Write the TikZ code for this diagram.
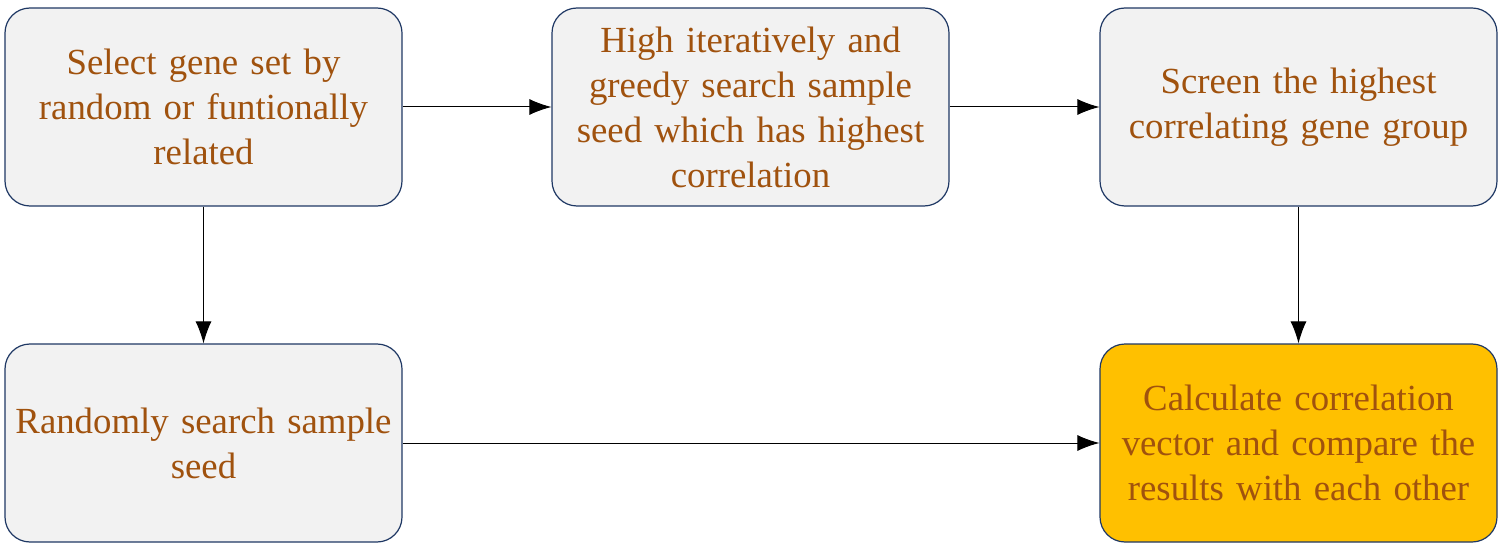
\documentclass[tikz,border=0pt]{standalone}
\usepackage{fontspec}
\setmainfont{Liberation Serif}
\usepackage{tikz}
\usetikzlibrary{arrows.meta,positioning}

\definecolor{boxfill}{HTML}{F2F2F2}
\definecolor{boxline}{HTML}{1F3864}
\definecolor{boxtext}{HTML}{A0520E}
\definecolor{goldfill}{HTML}{FFC000}

\tikzset{
	stepbox/.style={draw=boxline, line width=1.2pt, fill=boxfill, rounded corners=25pt,
		minimum width=397pt, minimum height=198pt, text width=390pt, align=center,
		text=boxtext, font=\fontsize{36.8}{45}\selectfont, inner sep=0pt},
	flow/.style={-{Latex[length=22pt,width=16pt]}, line width=1pt}
}

\begin{document}
\begin{tikzpicture}[x=1pt,y=1pt]

	\useasboundingbox (0,0) rectangle (1510,-548);

	\node[stepbox] (select) at (203.5,-107) {Select gene set by\\random or funtionally\\related};
	\node[stepbox] (greedy) at (750.5,-107) {High iteratively and\\greedy search sample\\seed which has highest\\correlation};
	\node[stepbox] (screen) at (1298.5,-107) {Screen the highest\\correlating gene group};
	\node[stepbox] (random) at (203.5,-443) {Randomly search sample\\seed};
	\node[stepbox, fill=goldfill] (calc) at (1298.5,-443) {Calculate correlation\\vector and compare the\\results with each other};

	\draw[flow] (select) -- (greedy);
	\draw[flow] (greedy) -- (screen);
	\draw[flow] (select) -- (random);
	\draw[flow] (screen) -- (calc);
	\draw[flow] (random) -- (calc);

\end{tikzpicture}
\end{document}
